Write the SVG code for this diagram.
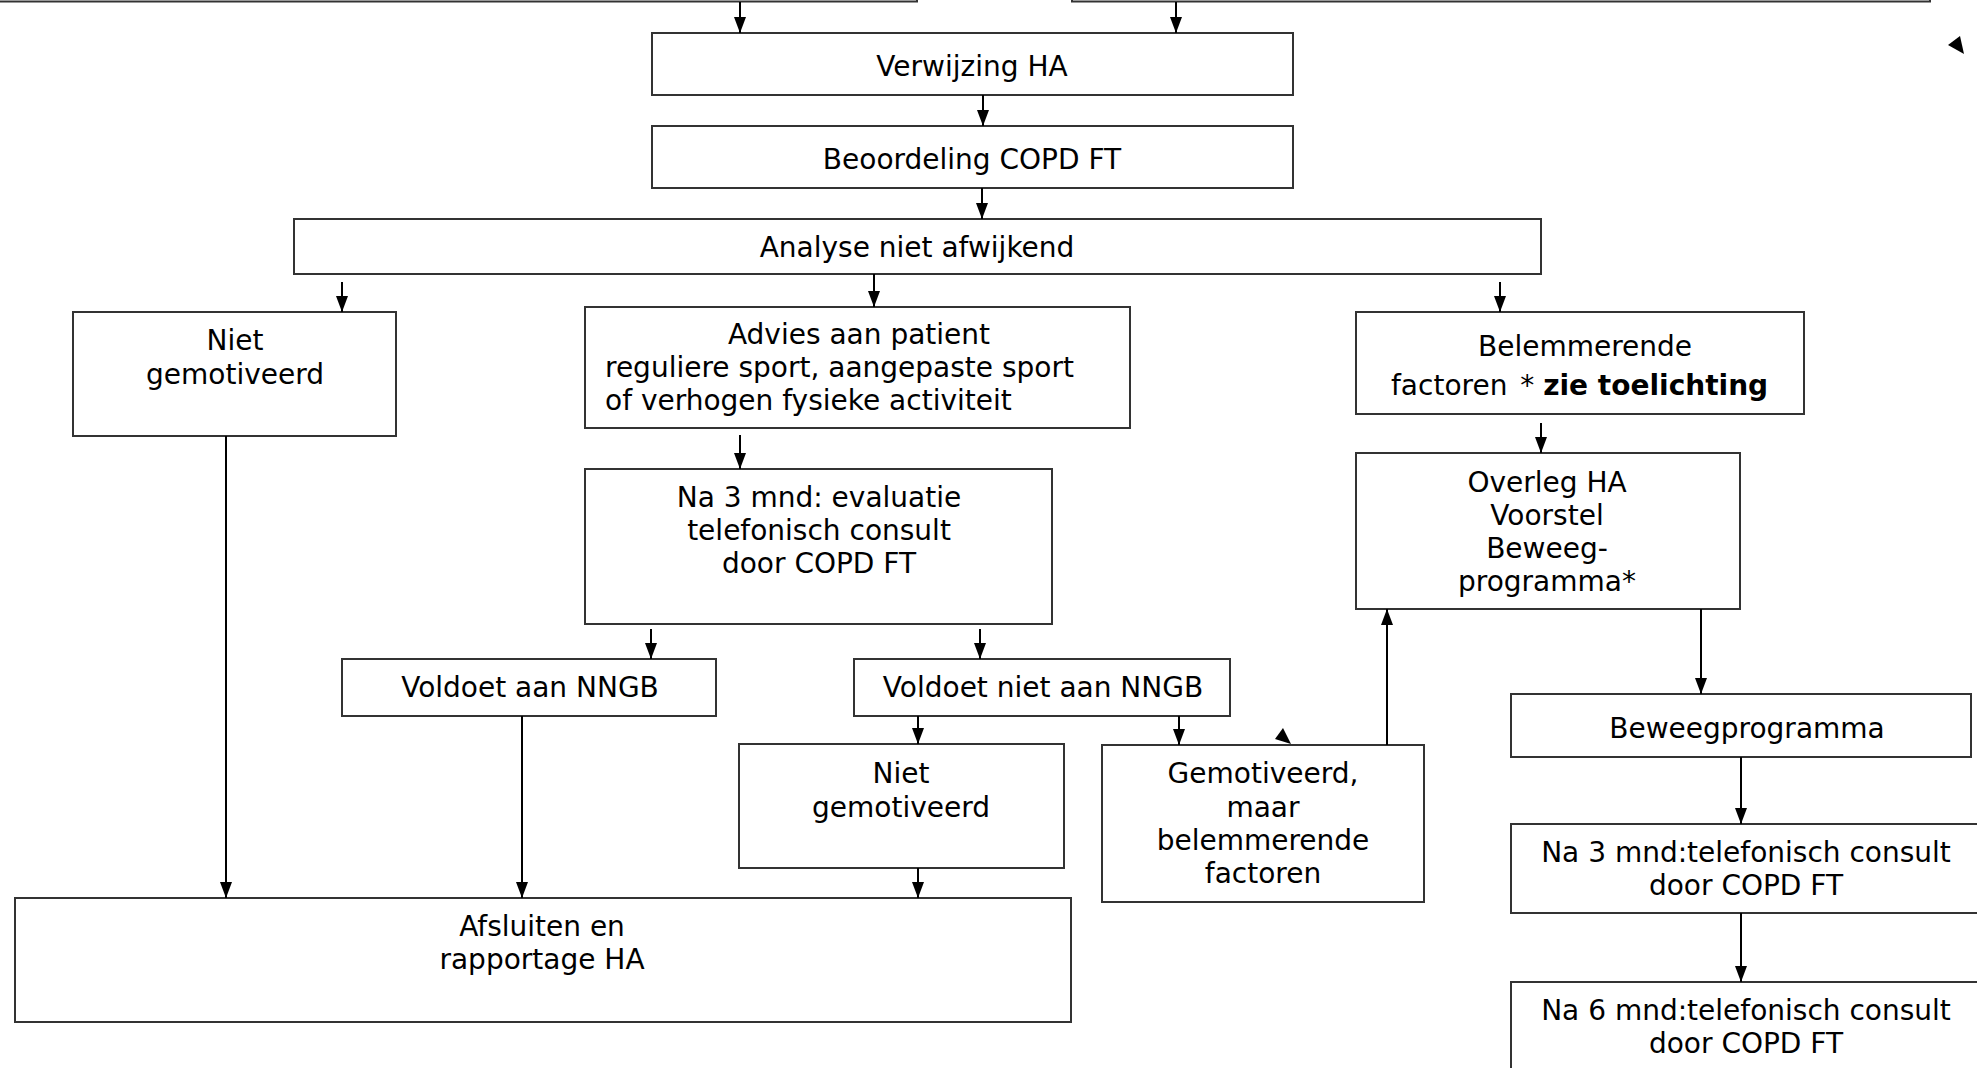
<svg xmlns="http://www.w3.org/2000/svg" width="1977" height="1068" viewBox="0 0 1977 1068">
<defs>
<style>
.box{fill:#fff;stroke:#333;stroke-width:2}
.t{font-family:"DejaVu Sans",Verdana,sans-serif;font-size:28px;fill:#000;text-anchor:middle}
.s{text-anchor:start}
.b{font-weight:bold}
.c{stroke:#000;stroke-width:2;fill:none;marker-end:url(#ah)}
.h{fill:#000}
</style>
<marker id="ah" viewBox="0 0 16 12" refX="16" refY="6" markerWidth="16" markerHeight="12" markerUnits="userSpaceOnUse" orient="auto">
<path d="M0,0 L16,6 L0,12 z" fill="#000"/>
</marker>
</defs>
<rect x="0" y="0" width="1977" height="1068" fill="#fff"/>

<g id="top-left"><rect class="box" x="-10" y="-50" width="927" height="51.5"/></g>
<g id="top-right"><rect class="box" x="1072" y="-50" width="858" height="51.5"/></g>

<g id="verwijzing"><rect class="box" x="652" y="33" width="641" height="62"/><text class="t" x="972" y="76">Verwijzing HA</text></g>
<g id="beoordeling"><rect class="box" x="652" y="126" width="641" height="62"/><text class="t" x="972" y="169">Beoordeling COPD FT</text></g>
<g id="analyse"><rect class="box" x="294" y="219" width="1247" height="55"/><text class="t" x="917" y="257">Analyse niet afwijkend</text></g>

<g id="niet-gemotiveerd-1"><rect class="box" x="73" y="312" width="323" height="124"/><text class="t" x="235" y="350">Niet</text><text class="t" x="235" y="384">gemotiveerd</text></g>

<g id="advies"><rect class="box" x="585" y="307" width="545" height="121"/><text class="t" x="859" y="344">Advies aan patient</text><text class="t s" x="605" y="377">reguliere sport, aangepaste sport</text><text class="t s" x="605" y="410">of verhogen fysieke activiteit</text></g>

<g id="evaluatie"><rect class="box" x="585" y="469" width="467" height="155"/><text class="t" x="819" y="507">Na 3 mnd: evaluatie</text><text class="t" x="819" y="540">telefonisch consult</text><text class="t" x="819" y="573">door COPD FT</text></g>

<g id="voldoet"><rect class="box" x="342" y="659" width="374" height="57"/><text class="t" x="530" y="697">Voldoet aan NNGB</text></g>
<g id="voldoet-niet"><rect class="box" x="854" y="659" width="376" height="57"/><text class="t" x="1043" y="697">Voldoet niet aan NNGB</text></g>

<g id="niet-gemotiveerd-2"><rect class="box" x="739" y="744" width="325" height="124"/><text class="t" x="901" y="783">Niet</text><text class="t" x="901" y="817">gemotiveerd</text></g>

<g id="gemotiveerd"><rect class="box" x="1102" y="745" width="322" height="157"/><text class="t" x="1263" y="783">Gemotiveerd,</text><text class="t" x="1263" y="817">maar</text><text class="t" x="1263" y="850">belemmerende</text><text class="t" x="1263" y="883">factoren</text></g>

<g id="afsluiten"><rect class="box" x="15" y="898" width="1056" height="124"/><text class="t" x="542" y="936">Afsluiten en</text><text class="t" x="542" y="969">rapportage HA</text></g>

<g id="belemmerende"><rect class="box" x="1356" y="312" width="448" height="102"/><text class="t" x="1585" y="356">Belemmerende</text><text class="t s" x="1391" y="395">factoren <tspan dx="4">*</tspan> <tspan class="b">zie toelichting</tspan></text></g>

<g id="overleg"><rect class="box" x="1356" y="453" width="384" height="156"/><text class="t" x="1547" y="492">Overleg HA</text><text class="t" x="1547" y="525">Voorstel</text><text class="t" x="1547" y="558">Beweeg-</text><text class="t" x="1547" y="591">programma*</text></g>

<g id="beweegprogramma"><rect class="box" x="1511" y="694" width="460" height="63"/><text class="t" x="1747" y="738">Beweegprogramma</text></g>
<g id="na-3-mnd"><rect class="box" x="1511" y="824" width="480" height="89"/><text class="t" x="1746" y="862">Na 3 mnd:telefonisch consult</text><text class="t" x="1746" y="895">door COPD FT</text></g>
<g id="na-6-mnd"><rect class="box" x="1511" y="982" width="480" height="110"/><text class="t" x="1746" y="1020">Na 6 mnd:telefonisch consult</text><text class="t" x="1746" y="1053">door COPD FT</text></g>

<g id="connectors">
<line class="c" x1="740" y1="2" x2="740" y2="33"/>
<line class="c" x1="1176" y1="2" x2="1176" y2="33"/>
<line class="c" x1="983" y1="95" x2="983" y2="126"/>
<line class="c" x1="982" y1="188" x2="982" y2="219"/>
<line class="c" x1="342" y1="282" x2="342" y2="312"/>
<line class="c" x1="874" y1="274" x2="874" y2="307"/>
<line class="c" x1="1500" y1="282" x2="1500" y2="312"/>
<line class="c" x1="740" y1="435" x2="740" y2="469"/>
<line class="c" x1="651" y1="629" x2="651" y2="659"/>
<line class="c" x1="980" y1="629" x2="980" y2="659"/>
<line class="c" x1="918" y1="716" x2="918" y2="744"/>
<line class="c" x1="1179" y1="716" x2="1179" y2="745"/>
<line class="c" x1="226" y1="436" x2="226" y2="898"/>
<line class="c" x1="522" y1="716" x2="522" y2="898"/>
<line class="c" x1="918" y1="868" x2="918" y2="898"/>
<line class="c" x1="1541" y1="423" x2="1541" y2="453"/>
<line class="c" x1="1387" y1="745" x2="1387" y2="609"/>
<line class="c" x1="1701" y1="609" x2="1701" y2="694"/>
<line class="c" x1="1741" y1="757" x2="1741" y2="824"/>
<line class="c" x1="1741" y1="913" x2="1741" y2="982"/>
<polygon class="h" points="1283,728 1275,739 1291,744"/>
<polygon class="h" points="1948,45 1960,36 1964,54"/>
</g>
</svg>
